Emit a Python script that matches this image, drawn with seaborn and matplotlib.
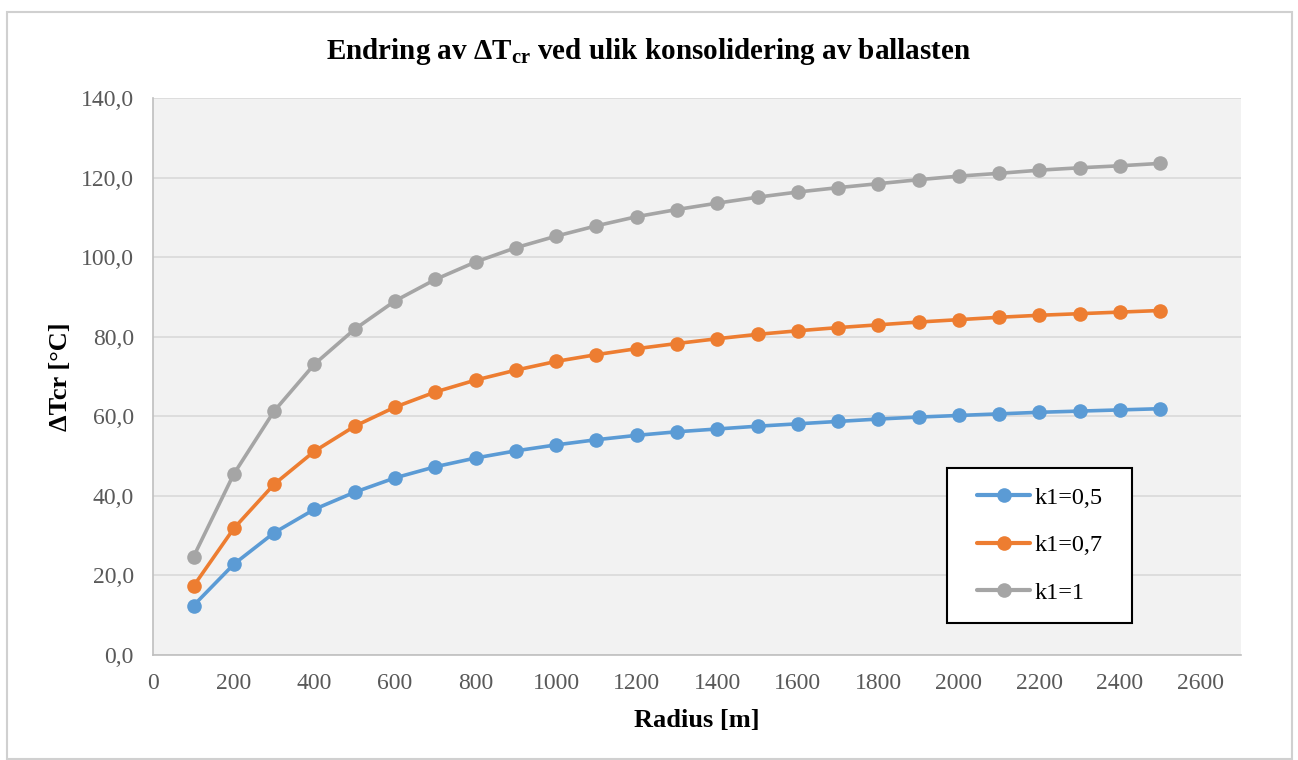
import numpy as np
import pandas as pd
import matplotlib
matplotlib.use("Agg")
import matplotlib.pyplot as plt
import seaborn as sns
from matplotlib.ticker import FuncFormatter, MultipleLocator
from matplotlib.lines import Line2D
from matplotlib.patches import Rectangle

radius = [100, 200, 300, 400, 500, 600, 700, 800, 900, 1000, 1100, 1200, 1300,
          1400, 1500, 1600, 1700, 1800, 1900, 2000, 2100, 2200, 2300, 2400, 2500]
k05 = [12.4, 22.8, 30.7, 36.6, 40.9, 44.5, 47.3, 49.5, 51.3, 52.8, 54.1, 55.2, 56.1,
       56.8, 57.5, 58.1, 58.7, 59.3, 59.8, 60.2, 60.6, 61.0, 61.3, 61.6, 61.9]
k07 = [17.3, 31.8, 42.9, 51.2, 57.5, 62.3, 66.1, 69.1, 71.6, 73.8, 75.5, 77.0, 78.3,
       79.5, 80.6, 81.5, 82.3, 83.0, 83.7, 84.3, 84.9, 85.4, 85.8, 86.2, 86.6]
k10 = [24.7, 45.5, 61.3, 73.1, 81.9, 89.0, 94.4, 98.8, 102.4, 105.3, 107.9, 110.2, 112.0,
       113.6, 115.1, 116.4, 117.5, 118.5, 119.5, 120.4, 121.1, 121.9, 122.5, 123.0, 123.6]
series_names = ["k1=0,5", "k1=0,7", "k1=1"]
colors = ["#5B9BD5", "#ED7D31", "#A5A5A5"]

df = pd.concat([
    pd.DataFrame({"Radius": radius, "dT": vals, "serie": name})
    for name, vals in zip(series_names, [k05, k07, k10])
])

sns.set_theme(style="white")
plt.rcParams["font.family"] = ["Liberation Serif", "DejaVu Serif"]
plt.rcParams["mathtext.fontset"] = "custom"
plt.rcParams["mathtext.rm"] = "Liberation Serif:bold"
plt.rcParams["mathtext.bf"] = "Liberation Serif:bold"

fig = plt.figure(figsize=(12.98, 7.6), dpi=100)
fig.patch.set_facecolor("white")
ax = fig.add_axes([0.1181, 0.1384, 0.956 - 0.1181, 0.8708 - 0.1384])
ax.set_facecolor("#F2F2F2")

sns.lineplot(data=df, x="Radius", y="dT", hue="serie", palette=colors,
             hue_order=series_names, marker="o", markersize=10.5, markeredgewidth=0,
             linewidth=2.6, ax=ax, legend=False, sort=False)

ax.set_xlim(0, 2700)
ax.set_ylim(0, 140)
ax.set_xticks(np.arange(0, 2601, 200))
ax.yaxis.set_major_locator(MultipleLocator(20))
ax.yaxis.set_major_formatter(FuncFormatter(lambda v, p: f"{v:.1f}".replace(".", ",")))
ax.grid(axis="y", color="#D9D9D9", linewidth=1.2)
ax.set_axisbelow(True)
for s in ["top", "right"]:
    ax.spines[s].set_visible(False)
for s in ["left", "bottom"]:
    ax.spines[s].set_color("#BFBFBF")
    ax.spines[s].set_linewidth(1.2)
ax.tick_params(axis="both", labelsize=17, colors="#595959", length=0)
ax.tick_params(axis="x", pad=13)
ax.tick_params(axis="y", pad=14)

ax.set_xlabel("Radius [m]", fontsize=19, fontweight="bold", color="black", labelpad=11)
ax.set_ylabel("ΔTcr [°C]", fontsize=19, fontweight="bold", color="black", labelpad=6)

fig.text(0.5, 0.932, r"Endring av ΔT$_{\mathrm{cr}}$ ved ulik konsolidering av ballasten",
         ha="center", va="center", fontsize=21, fontweight="bold", color="black")

# legend frame
bx, by, bw, bh = 0.7297, 0.0571, 0.1703, 0.2790
ax.add_patch(Rectangle((bx, by), bw, bh, transform=ax.transAxes, facecolor="white",
                       edgecolor="black", linewidth=1.5, zorder=5))
handles = [Line2D([0], [0], color=c, marker="o", markersize=10.5, markeredgewidth=0,
                  linewidth=3) for c in colors]
leg = ax.legend(handles, series_names, loc="center",
                bbox_to_anchor=(bx + bw / 2, by + bh / 2), fontsize=17.5, frameon=False,
                handlelength=2.2, handletextpad=0.15, labelspacing=1.05,
                borderpad=0.3, borderaxespad=0)
leg.set_zorder(6)
for t in leg.get_texts():
    t.set_color("black")

fig.patches.append(Rectangle((7 / 1298, 1 / 760), 1285 / 1298, 747 / 760,
                             transform=fig.transFigure, fill=False,
                             edgecolor="#D0D0D0", linewidth=1.5))

fig.savefig("out.png", dpi=100, facecolor="white")
